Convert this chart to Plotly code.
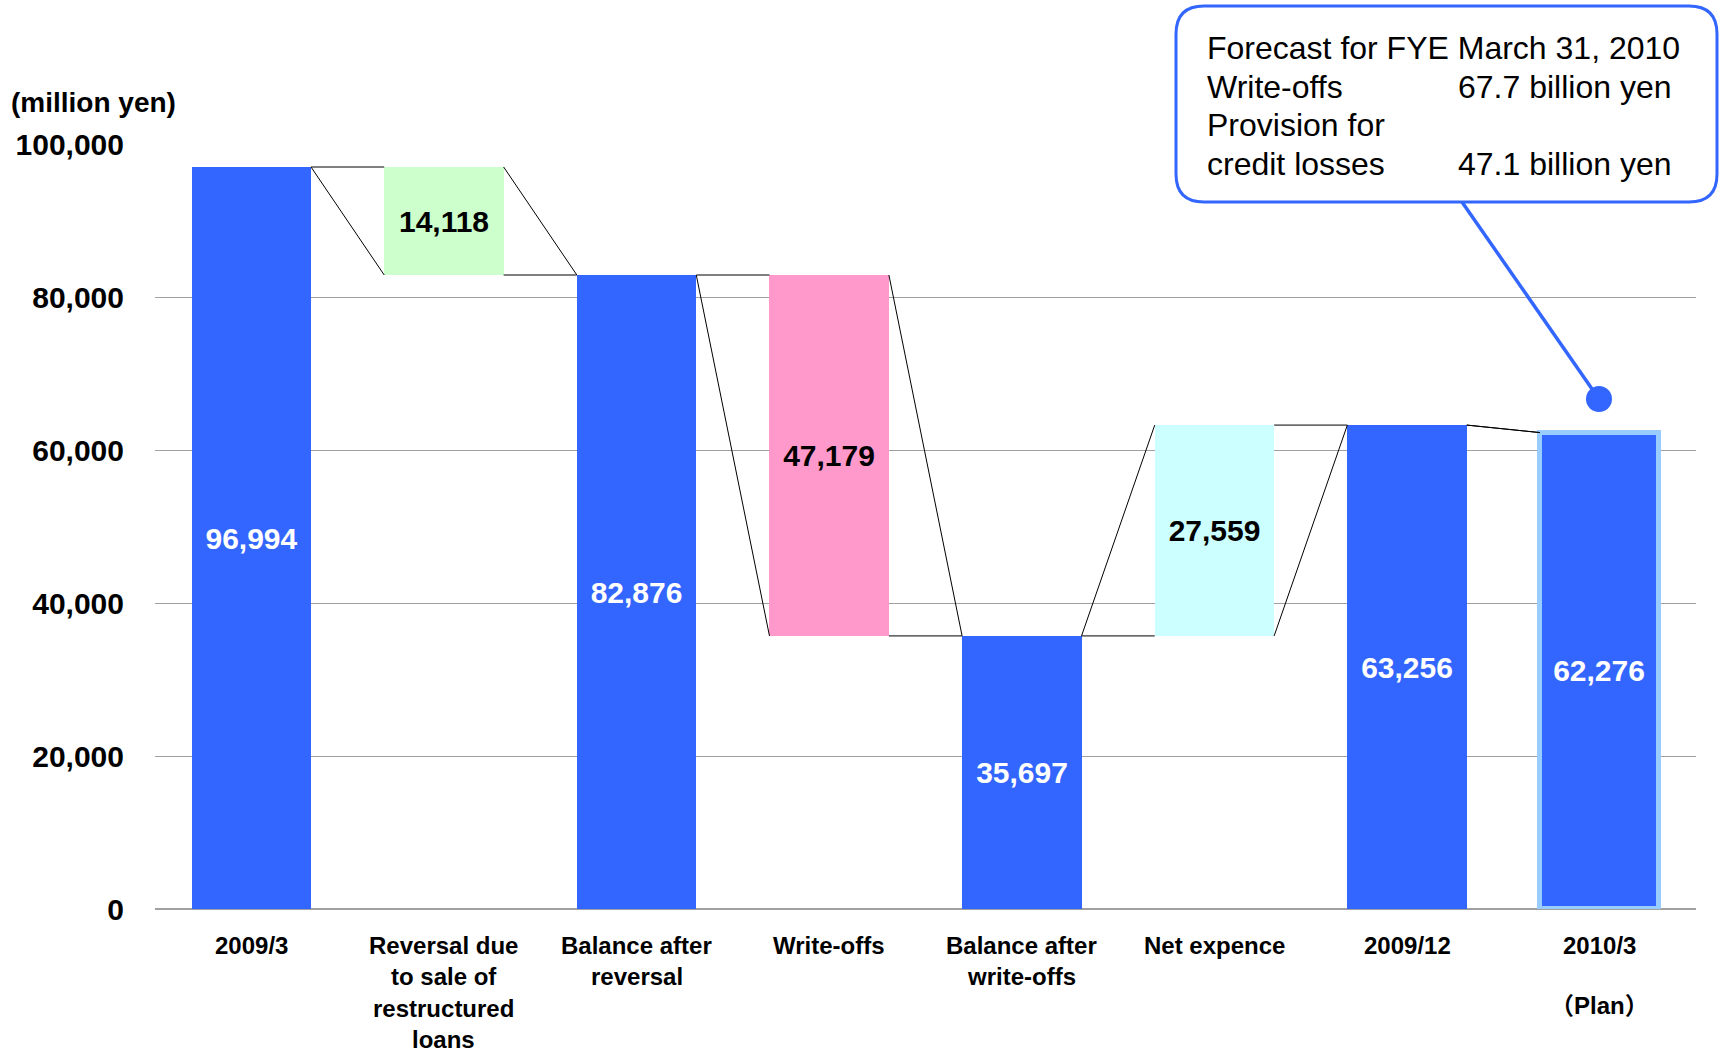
import plotly.graph_objects as go

# Allowance for credit losses – waterfall from 2009/3 to 2010/3 (plan)
category_labels = [
    "2009/3",
    "Reversal due\nto sale of\nrestructured\nloans",
    "Balance after\nreversal",
    "Write-offs",
    "Balance after\nwrite-offs",
    "Net expence",
    "2009/12",
    "2010/3\n\n（Plan）",
]
amounts = [96994, 14118, 82876, 47179, 35697, 27559, 63256, 62276]
steps = ["total", "decrease", "total", "decrease", "total", "increase", "total", "total"]
bar_colors = ["#3366FF", "#CCFFCC", "#3366FF", "#FF99CC", "#3366FF", "#CCFFFF", "#3366FF", "#3366FF"]
label_colors = ["white", "black", "white", "black", "white", "black", "white", "white"]
y_ticks = [0, 20000, 40000, 60000, 80000, 100000]

callout_title = "Forecast for FYE March 31, 2010"
callout_rows = [("Write-offs", "67.7 billion yen"),
                ("Provision for", ""),
                ("credit losses", "47.1 billion yen")]

FONT = "Liberation Sans, Arial, Noto Sans CJK JP, sans-serif"
BAR_W = 0.62

# floating bases / tops of each bar
bases, tops, lowers = [], [], []
running = 0
for amt, step in zip(amounts, steps):
    if step == "total":
        base, top, low = 0, amt, amt
        running = amt
    elif step == "decrease":
        base, top = running - amt, running
        low = base
        running = base
    else:
        base, top = running, running + amt
        low = base
        running = top
    bases.append(base)
    tops.append(top)
    lowers.append(low)

n = len(amounts)
xs = list(range(n))

fig = go.Figure()

fig.add_trace(go.Bar(
    x=xs, y=amounts, base=bases, width=BAR_W,
    marker=dict(color=bar_colors,
                line=dict(color=["#99CCFF" if i == n - 1 else bar_colors[i] for i in xs],
                          width=[5 if i == n - 1 else 0 for i in xs])),
    text=[f"{v:,}" for v in amounts],
    textposition="inside", insidetextanchor="middle", constraintext="none",
    textfont=dict(family=FONT, size=30, color=label_colors, weight="bold"),
    hoverinfo="skip", showlegend=False,
))

# series lines joining neighbouring bars
cx, cy = [], []
for i in range(n - 1):
    xa, xb = i + BAR_W / 2, i + 1 - BAR_W / 2
    cx += [xa, xb, None, xa, xb, None]
    cy += [lowers[i], lowers[i + 1], None, tops[i], tops[i + 1], None]
fig.add_trace(go.Scatter(x=cx, y=cy, mode="lines", line=dict(color="black", width=1),
                         hoverinfo="skip", showlegend=False))

# plot area in pixels
L, R, T, B = 155, 1696, 144, 909
W, H = 1720, 1053


def px(xp):
    return (xp - L) / (R - L)


def py(yp):
    return (B - yp) / (B - T)


annotations = []

# category labels, one line per annotation
line_step = 31.5
for i, lab in enumerate(category_labels):
    for k, line in enumerate(lab.split("\n")):
        if not line:
            continue
        shift = -36 - line_step * k
        if line.startswith("（"):
            shift += 3
        annotations.append(dict(
            x=i, y=0, xref="x", yref="paper", text=line, showarrow=False,
            xanchor="center", yanchor="middle", yshift=shift, borderpad=0,
            font=dict(family=FONT, size=24, color="black", weight="bold")))

# unit label
annotations.append(dict(
    x=px(9), y=py(103), xref="paper", yref="paper", text="(million yen)",
    showarrow=False, xanchor="left", yanchor="middle",
    font=dict(family=FONT, size=28, color="black", weight="bold")))

# callout text
text_font = dict(family=FONT, size=32, color="black")
rows_y = [48, 86.5, 125, 163.5]
annotations.append(dict(x=px(1205), y=py(rows_y[0]), xref="paper", yref="paper",
                        text=callout_title, showarrow=False, xanchor="left",
                        yanchor="middle", font=text_font))
for (left, right), yy in zip(callout_rows, rows_y[1:]):
    annotations.append(dict(x=px(1205), y=py(yy), xref="paper", yref="paper",
                            text=left, showarrow=False, xanchor="left",
                            yanchor="middle", font=text_font))
    if right:
        annotations.append(dict(x=px(1456), y=py(yy), xref="paper", yref="paper",
                                text=right, showarrow=False, xanchor="left",
                                yanchor="middle", font=text_font))

# callout box (rounded rectangle), pointer and dot
bx1, bx2, by1, by2, rad = 1176, 1717, 6, 202, 28
rx, ry = rad / (R - L), rad / (B - T)
x1, x2, y1, y2 = px(bx1), px(bx2), py(by1), py(by2)
box_path = (f"M {x1 + rx},{y1} L {x2 - rx},{y1} Q {x2},{y1} {x2},{y1 - ry} "
            f"L {x2},{y2 + ry} Q {x2},{y2} {x2 - rx},{y2} "
            f"L {x1 + rx},{y2} Q {x1},{y2} {x1},{y2 + ry} "
            f"L {x1},{y1 - ry} Q {x1},{y1} {x1 + rx},{y1} Z")

dot_x, dot_y, dot_r = 1599, 399, 13
shapes = [
    dict(type="line", xref="paper", yref="paper",
         x0=px(1462), y0=py(by2), x1=px(dot_x), y1=py(dot_y),
         line=dict(color="#3366FF", width=3.5)),
    dict(type="circle", xref="paper", yref="paper",
         x0=px(dot_x - dot_r), x1=px(dot_x + dot_r),
         y0=py(dot_y + dot_r), y1=py(dot_y - dot_r),
         fillcolor="#3366FF", line=dict(width=0)),
    dict(type="path", xref="paper", yref="paper", path=box_path,
         fillcolor="white", line=dict(color="#3366FF", width=3)),
]

fig.update_layout(
    width=W, height=H,
    margin=dict(l=L, r=W - R, t=T, b=H - B, pad=0),
    paper_bgcolor="white", plot_bgcolor="white",
    bargap=0,
    xaxis=dict(range=[-0.5, n - 0.5], showticklabels=False, showgrid=False,
               zeroline=False, showline=False, fixedrange=True),
    yaxis=dict(range=[0, 100000], tickvals=y_ticks, tickformat=",d",
               showgrid=True, gridcolor="#A0A0A0", gridwidth=1,
               zeroline=True, zerolinecolor="#A0A0A0", zerolinewidth=1.5,
               showline=False, ticks="", ticklabelstandoff=30,
               tickfont=dict(family=FONT, size=30, color="black", weight="bold"),
               fixedrange=True),
    annotations=annotations,
    shapes=shapes,
    showlegend=False,
)

fig.write_html("out.html")
